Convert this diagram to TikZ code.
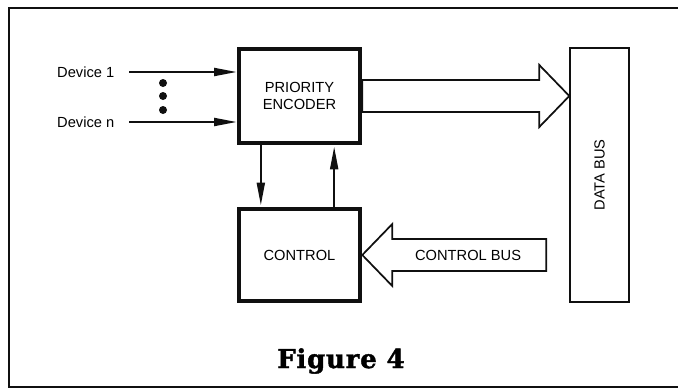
\documentclass[tikz,border=0pt]{standalone}
\usepackage{fontspec}
\setmainfont{Liberation Sans}
\newfontfamily\captionfont{DejaVu Serif}[BoldFeatures={FakeBold=1.6,LetterSpace=3}]
\usetikzlibrary{calc}
\usetikzlibrary{backgrounds}
\usetikzlibrary{arrows.meta}
\definecolor{color_ink}{HTML}{101010}
\def\blocklinewidth{3.2pt}
\def\signallinewidth{1.5pt}
% fat bus arrows: half shaft, half head, head length (px)
\def\fatshaft{16}
\def\fathead{31}
\def\fatlen{30}
% #1 = 1 points right, -1 points left; #2 tail, #3 tip
\def\fatarrow#1(#2)(#3){
    \draw[fatarrow] (#3) -- ++({-1*(#1)*\fatlen},\fathead) -- ++(0,{\fatshaft-\fathead})
        -- ($(#2)+(0,\fatshaft)$) -- ($(#2)+(0,-\fatshaft)$)
        -- ($(#3)+({-1*(#1)*\fatlen},-\fatshaft)$) -- ++(0,{\fatshaft-\fathead}) -- cycle;
}

\begin{document}
\begin{tikzpicture}[x=0.75pt,y=-0.75pt,
        font=\fontsize{11}{12.5}\selectfont,
        block/.style={draw=color_ink,line width=\blocklinewidth,inner sep=0pt,align=center},
        busbox/.style={draw=color_ink,line width=1.3pt,inner sep=0pt},
        signal/.style={color_ink,line width=\signallinewidth,-{Triangle[length=17pt,width=6pt]}},
        fatarrow/.style={draw=color_ink,fill=white,line width=1.3pt,line join=miter},
        frame/.style={color_ink,line width=1.2pt}]
    \useasboundingbox (0,0) rectangle (678,389);
    \draw[frame] (680,8) -- (9,8) -- (9,387) -- (680,387);
    % blocks
    \node[block,minimum width=91pt,minimum height=70.5pt] (enc) at (299.5,96) {PRIORITY\\ENCODER};
    \node[block,minimum width=91pt,minimum height=69pt] (ctl) at (299.5,255) {CONTROL};
    \node[busbox,minimum width=44pt,minimum height=190.5pt] (bus) at (599.5,175) {};
    \node[rotate=90] (buslabel) at (bus.center) {DATA BUS};
    % device request lines
    \node[anchor=east] (dev1) at (119,72) {Device 1};
    \node[anchor=east] (devn) at (119,122) {Device n};
    \draw[signal] ([xshift=7.5pt]dev1.east) -- (dev1.east -| enc.west);
    \draw[signal] ([xshift=7.5pt]devn.east) -- (devn.east -| enc.west);
    \foreach \y in {83,96,110}
        \fill[color_ink] (163,\y) circle (4);
    % handshake between encoder and control
    \draw[signal,shorten >=1.2pt] ([xshift=-29pt]enc.south) -- ([xshift=-29pt]ctl.north);
    \draw[signal,shorten >=1.2pt] ([xshift=26pt]ctl.north) -- ([xshift=26pt]enc.south);
    % bus arrows
    \coordinate (cbtail) at ($(ctl.east)+(184,0)$);
    \begin{pgfonlayer}{background}
        \fatarrow{1}(enc.east)(bus.west |- enc.east)
        \fatarrow{-1}(cbtail)(ctl.east)
    \end{pgfonlayer}
    \node (cblabel) at ($(ctl.east)!0.575!(cbtail)$) {CONTROL BUS};
    % caption
    \node[anchor=base,font=\captionfont\bfseries\fontsize{19.5}{22}\selectfont] (caption) at (341,368) {Figure 4};
\end{tikzpicture}
\end{document}
